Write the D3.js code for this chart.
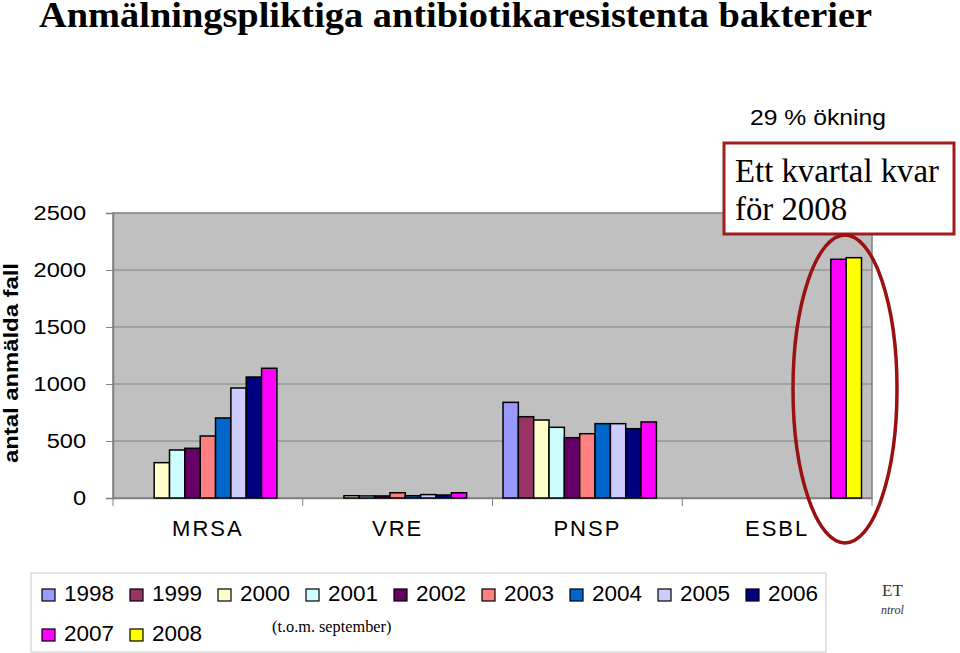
<!DOCTYPE html>
<html><head><meta charset="utf-8">
<script src="https://cdn.jsdelivr.net/npm/d3@7"></script>
<style>body{margin:0;background:#fff}svg{display:block}</style>
</head><body>
<script>
const categories = ["MRSA","VRE","PNSP","ESBL"];
const years = ["1998","1999","2000","2001","2002","2003","2004","2005","2006","2007","2008"];
// values per year, ordered as categories (null = no bar)
const v1998 = [null, null, 839, null];
const v1999 = [null, null, 713, null];
const v2000 = [310, 20, 684, null];
const v2001 = [421, 18, 620, null];
const v2002 = [436, 18, 529, null];
const v2003 = [544, 46, 564, null];
const v2004 = [702, 20, 652, null];
const v2005 = [965, 30, 652, null];
const v2006 = [1061, 26, 608, null];
const v2007 = [1138, 46, 667, 2094];
const v2008 = [null, null, null, 2108];
const seriesValues = [v1998,v1999,v2000,v2001,v2002,v2003,v2004,v2005,v2006,v2007,v2008];
const colors = ["#9999FF","#993366","#FFFFCC","#CCFFFF","#660066","#FF8080","#0066CC","#CCCCFF","#000080","#FF00FF","#FFFF00"];
const yTicks = [0,500,1000,1500,2000,2500];

const W=960,H=653;
const svg=d3.select("body").append("svg").attr("width",W).attr("height",H);
const L=113,R=872,T=213,B=498;
const x0=d3.scaleBand().domain(categories).range([L,R]).padding(0);
const x1=d3.scaleBand().domain(years).range([10.5,x0.bandwidth()-10.5]).padding(0);
const y=d3.scaleLinear().domain([0,2500]).range([B,T]);
function stretch(sel,k){ sel.each(function(){ const w=this.getComputedTextLength(); d3.select(this).attr("textLength",w*k).attr("lengthAdjust","spacingAndGlyphs"); }); }

// title
svg.append("text").attr("x",39).attr("y",27).attr("font-family","'Liberation Serif','Times New Roman',serif")
  .attr("font-weight","bold").attr("font-size",35).attr("fill","#000")
  .attr("textLength",833).attr("lengthAdjust","spacingAndGlyphs")
  .text("Anmälningspliktiga antibiotikaresistenta bakterier");

// plot area
svg.append("rect").attr("x",L).attr("y",T).attr("width",R-L).attr("height",B-T).attr("fill","#C0C0C0").attr("stroke","#808080").attr("stroke-width",1.5);
// gridlines
svg.append("g").selectAll("line").data(yTicks.filter(d=>d>0&&d<2500)).join("line")
  .attr("x1",L).attr("x2",R).attr("y1",d=>y(d)).attr("y2",d=>y(d)).attr("stroke","#808080").attr("stroke-width",1);

// y axis
const ya=svg.append("g").attr("transform",`translate(${L},0)`).call(d3.axisLeft(y).tickValues(yTicks).tickSize(7).tickPadding(20).tickFormat(d3.format("d")));
ya.select(".domain").attr("stroke","#808080").attr("stroke-width",1.5);
ya.selectAll(".tick line").attr("stroke","#808080");
ya.selectAll("text").attr("font-family","'Liberation Sans',Arial,sans-serif").attr("font-size",20).attr("fill","#000");
stretch(ya.selectAll("text"),1.18);

// x axis
const xa=svg.append("g").attr("transform",`translate(0,${B})`).call(d3.axisBottom(x0).tickSize(0).tickPadding(22));
xa.select(".domain").attr("stroke","#808080").attr("stroke-width",1.5);
xa.selectAll("text").attr("font-family","'Liberation Sans',Arial,sans-serif").attr("font-size",22).attr("letter-spacing","2px").attr("fill","#000");
svg.append("g").selectAll("line").data(categories.map(c=>x0(c)).concat([R])).join("line")
  .attr("x1",d=>d).attr("x2",d=>d).attr("y1",B).attr("y2",B+8).attr("stroke","#808080").attr("stroke-width",1);

// bars
const flat=[];
seriesValues.forEach((arr,i)=>arr.forEach((v,j)=>{ if(v!=null) flat.push({year:years[i],cat:categories[j],v,c:colors[i]}); }));
svg.append("g").selectAll("rect").data(flat).join("rect")
  .attr("x",d=>x0(d.cat)+x1(d.year)).attr("width",x1.bandwidth())
  .attr("y",d=>y(d.v)).attr("height",d=>B-y(d.v))
  .attr("fill",d=>d.c).attr("stroke","#000").attr("stroke-width",1.5);

// y title
svg.append("text").attr("transform","translate(18,363) rotate(-90)").attr("text-anchor","middle")
  .attr("font-family","'Liberation Sans',Arial,sans-serif").attr("font-weight","bold").attr("font-size",20)
  .attr("textLength",200).attr("lengthAdjust","spacingAndGlyphs").text("antal anmälda fall");

// annotation
svg.append("text").attr("x",750).attr("y",125).attr("font-family","'Liberation Sans',Arial,sans-serif").attr("font-size",22)
  .attr("textLength",136).attr("lengthAdjust","spacingAndGlyphs").text("29 % ökning");
svg.append("rect").attr("x",724).attr("y",143).attr("width",230).attr("height",91).attr("fill","#fff").attr("stroke","#A01E1E").attr("stroke-width",3);
svg.append("text").attr("x",735).attr("y",182).attr("font-family","'Liberation Serif','Times New Roman',serif").attr("font-size",32.8).text("Ett kvartal kvar");
svg.append("text").attr("x",735).attr("y",220).attr("font-family","'Liberation Serif','Times New Roman',serif").attr("font-size",32.8).text("för 2008");
svg.append("ellipse").attr("cx",845).attr("cy",389).attr("rx",52).attr("ry",154).attr("fill","none").attr("stroke","#9B1111").attr("stroke-width",3.5);

// legend
svg.append("rect").attr("x",31).attr("y",573).attr("width",795).attr("height",79).attr("fill","#fff").attr("stroke","#C8C8C8").attr("stroke-width",1);
const lg=svg.append("g").selectAll("g").data(years).join("g")
  .attr("transform",(d,i)=>`translate(${42+(i%9)*88},${i<9?589:629})`);
lg.append("rect").attr("width",13).attr("height",12).attr("fill",(d,i)=>colors[i]).attr("stroke","#000").attr("stroke-width",1.2);
lg.append("text").attr("x",22).attr("y",12).attr("font-family","'Liberation Sans',Arial,sans-serif").attr("font-size",22.5).text(d=>d);
svg.append("text").attr("x",272).attr("y",632).attr("font-family","'Liberation Serif','Times New Roman',serif").attr("font-size",16.3).text("(t.o.m. september)");

// logo fragment
svg.append("text").attr("x",882).attr("y",596).attr("font-family","'Liberation Serif',serif").attr("font-size",17).attr("fill","#333").text("ET");
svg.append("text").attr("x",881).attr("y",614).attr("font-family","'Liberation Serif',serif").attr("font-style","italic").attr("font-size",12).attr("fill","#333").text("ntrol");
</script>
</body></html>
